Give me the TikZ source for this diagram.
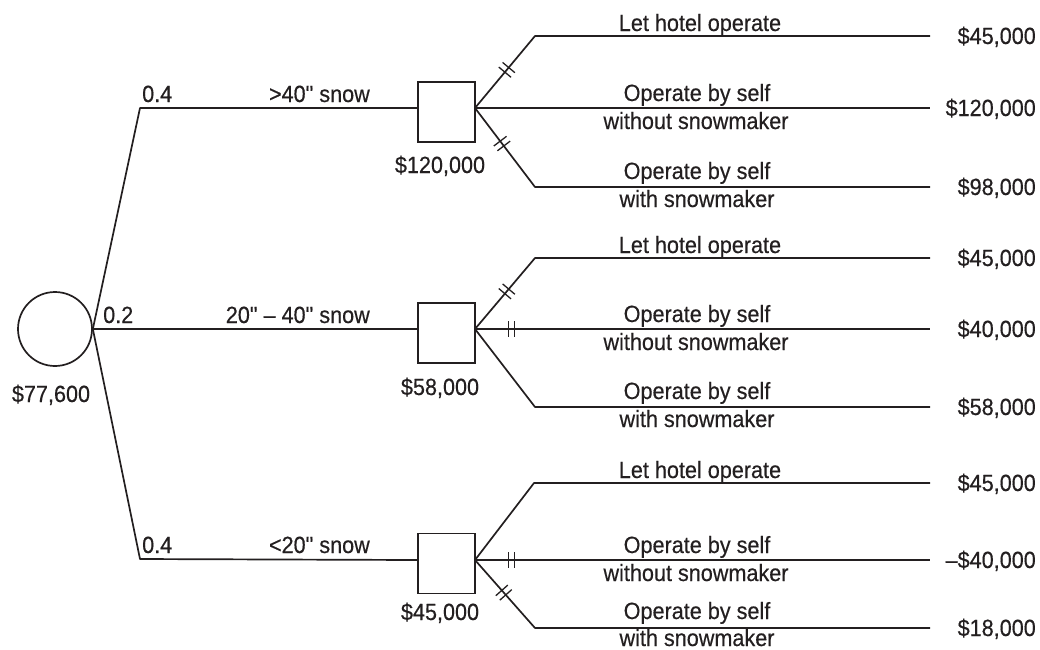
\documentclass[tikz,border=0pt]{standalone}
\usepackage{fontspec}
\setmainfont{Liberation Sans}[FakeStretch=0.92, FakeBold=0.4, Ligatures=TeXOff]
\usetikzlibrary{decorations.markings}
\definecolor{ink}{HTML}{231F20}

\begin{document}
\begin{tikzpicture}[x=1pt,y=-1pt,
  every node/.style={text=ink, font=\fontsize{23.5}{28}\selectfont},
  branch/.style={draw=ink, line width=1.7pt, line join=round},
  chance/.style={circle, draw=ink, line width=1.7pt, minimum size=74pt, inner sep=0pt},
  choice/.style={rectangle, draw=ink, line width=1.7pt, minimum width=57pt, minimum height=60pt, inner sep=0pt},
  lbl/.style={inner sep=0pt, anchor=base},
  lblw/.style={inner sep=0pt, anchor=base west},
  lble/.style={inner sep=0pt, anchor=base east},
  barred/.style={decorate, decoration={markings,
      mark=at position #1 with {\draw[ink, line width=1.3pt] (-3,-8) -- (-3,8) (3,-8) -- (3,8);}}}
]
\useasboundingbox (0,0) rectangle (1040,649);

% chance node
\node[chance] (c) at (55,329) {};
\node[lbl] (cv) at (51,402) {\$77,600};

% decision nodes
\node[choice] (d1) at (446.5,112) {};
\node[choice] (d2) at (446.5,333) {};
\node[choice] (d3) at (446.5,563.5) {};
\node[lbl] (d1v) at (440,173) {\$120,000};
\node[lbl] (d2v) at (440,395) {\$58,000};
\node[lbl] (d3v) at (440,620) {\$45,000};

% where the branches meet the boxes
\coordinate (d1i) at (418,108);  \coordinate (d1o) at (475,108);
\coordinate (d2i) at (418,329);  \coordinate (d2o) at (475,329);
\coordinate (d3i) at (418,560);  \coordinate (d3o) at (475,560);

% chance branches
\coordinate (k1) at (140,108);
\coordinate (k3) at (140,559);
\draw[branch] (c.east) -- (k1) -- (d1i);
\draw[branch] (c.east) -- (d2i);
\draw[branch] (c.east) -- (k3) -- (d3i);
\node[lblw] at (142,102) {0.4};
\node[lblw] at (103,323) {0.2};
\node[lblw] at (142,553) {0.4};
\node[lble] at (370,102) {>40" snow};
\node[lble] at (370,323) {20" – 40" snow};
\node[lble] at (370,553) {<20" snow};

% decision branches: corner points and line ends
\coordinate (u1) at (535,36);   \coordinate (u1e) at (930,36);
\coordinate (m1e) at (930,108);
\coordinate (l1) at (535,187);  \coordinate (l1e) at (930,187);
\coordinate (u2) at (535,258);  \coordinate (u2e) at (930,258);
\coordinate (m2e) at (930,329);
\coordinate (l2) at (535,407);  \coordinate (l2e) at (930,407);
\coordinate (u3) at (534,483);  \coordinate (u3e) at (930,483);
\coordinate (m3e) at (930,560);
\coordinate (l3) at (535,628);  \coordinate (l3e) at (930,628);

\draw[branch] (d1o) -- (u1) -- (u1e);
\draw[branch] (d1o) -- (m1e);
\draw[branch] (d1o) -- (l1) -- (l1e);
\draw[branch] (d2o) -- (u2) -- (u2e);
\draw[branch] (d2o) -- (m2e);
\draw[branch] (d2o) -- (l2) -- (l2e);
\draw[branch] (d3o) -- (u3) -- (u3e);
\draw[branch] (d3o) -- (m3e);
\draw[branch] (d3o) -- (l3) -- (l3e);

% rejected alternatives
\path[barred=0.53] (d1o) -- (u1);
\path[barred=0.45] (d1o) -- (l1);
\path[barred=0.53] (d2o) -- (u2);
\path[barred=0.08] (d2o) -- (m2e);
\path[barred=0.08] (d3o) -- (m3e);
\path[barred=0.48] (d3o) -- (l3);

% alternative labels
\node[lbl] at (700,31) {Let hotel operate};
\node[lbl] at (697,101) {Operate by self};
\node[lbl] at (696,129) {without snowmaker};
\node[lbl] at (697,179) {Operate by self};
\node[lbl] at (697,207) {with snowmaker};

\node[lbl] at (700,253) {Let hotel operate};
\node[lbl] at (697,322) {Operate by self};
\node[lbl] at (696,350) {without snowmaker};
\node[lbl] at (697,399) {Operate by self};
\node[lbl] at (697,427) {with snowmaker};

\node[lbl] at (700,478) {Let hotel operate};
\node[lbl] at (697,553) {Operate by self};
\node[lbl] at (696,581) {without snowmaker};
\node[lbl] at (697,619) {Operate by self};
\node[lbl] at (697,646) {with snowmaker};

% payoffs
\node[lble] at (1036,44) {\$45,000};
\node[lble] at (1036,116) {\$120,000};
\node[lble] at (1036,195) {\$98,000};
\node[lble] at (1036,266) {\$45,000};
\node[lble] at (1036,337) {\$40,000};
\node[lble] at (1036,415) {\$58,000};
\node[lble] at (1036,491) {\$45,000};
\node[lble] at (1036,568) {–\$40,000};
\node[lble] at (1036,636) {\$18,000};
\end{tikzpicture}
\end{document}
